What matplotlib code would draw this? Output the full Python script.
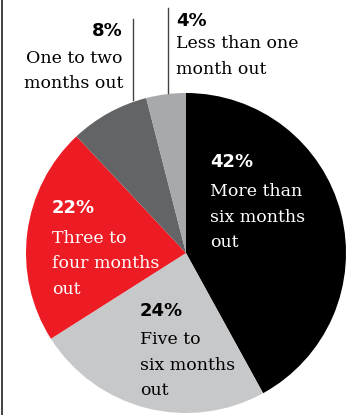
import matplotlib
matplotlib.use('Agg')
import matplotlib.pyplot as plt

# months out share
labels = [['More than', 'six months', 'out'],
          ['Five to', 'six months', 'out'],
          ['Three to', 'four months', 'out'],
          ['One to two', 'months out'],
          ['Less than one', 'month out']]
shares = [42, 24, 22, 8, 4]
colors = ['#000000', '#c7c8ca', '#ed1c24', '#636466', '#a7a9ac']

W, H = 352, 415
fig = plt.figure(figsize=(W / 100, H / 100), dpi=100)
ax = fig.add_axes([0, 0, 1, 1])

cx, cy, r = 186, H - 253, 160
ax.pie(shares, colors=colors, startangle=90, counterclock=False,
       center=(cx, cy), radius=r, wedgeprops=dict(linewidth=0))
ax.set_xlim(0, W)
ax.set_ylim(0, H)
ax.set_aspect('equal')
ax.axis('off')

serif = dict(family='DejaVu Serif', size=12.5)
pct = dict(family='DejaVu Sans', weight='bold', size=13)
step = 25.5


def y(px):
    return H - px


# label layout: (x, percent baseline, first text baseline, align, colour)
spots = [
    (210, 167, 196, 'left', 'white'),
    (140, 316, 344, 'left', 'black'),
    (52, 213, 243, 'left', 'white'),
    (123, 36.5, 63, 'right', 'black'),
    (176, 25.5, 48, 'left', 'black'),
]
for lines, s, (x, pb, tb, ha, c) in zip(labels, shares, spots):
    ax.text(x, y(pb), f'{s}%', ha=ha, va='baseline', color=c, **pct)
    for i, line in enumerate(lines):
        ax.text(x, y(tb + i * step), line, ha=ha, va='baseline', color=c, **serif)

# leader lines to the two thin slices
ax.plot([133, 133], [y(19), y(100)], color='#444444', lw=1)
ax.plot([168, 168], [y(8), y(93)], color='#444444', lw=1)
# left rule
ax.plot([1.5, 1.5], [0, H], color='#222222', lw=1.2)

fig.savefig('out.png', dpi=100)
